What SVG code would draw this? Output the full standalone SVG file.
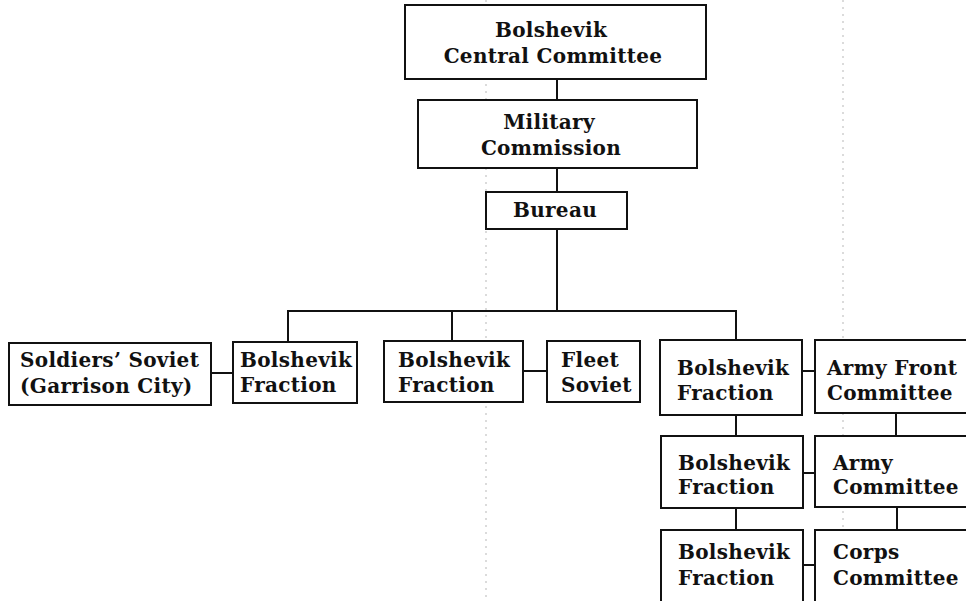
<svg xmlns="http://www.w3.org/2000/svg" width="966" height="601" viewBox="0 0 966 601">
<style>
.box{fill:#fff;stroke:#111;stroke-width:2}
.t{font-family:"DejaVu Serif","Liberation Serif",serif;font-weight:bold;font-size:20px;letter-spacing:0.3px;fill:#111}
.c{text-anchor:middle}
.ln{stroke:#111;stroke-width:2;fill:none}
.fold{stroke:#999;stroke-width:0.7;stroke-dasharray:2 5;fill:none}
</style>
<rect width="966" height="601" fill="#fff"/>
<g id="folds">
<line class="fold" x1="486" y1="0" x2="486" y2="601"/>
<line class="fold" x1="843" y1="0" x2="843" y2="601"/>
</g>
<g id="connectors">
<line class="ln" x1="557" y1="79" x2="557" y2="100"/>
<line class="ln" x1="557" y1="168" x2="557" y2="192"/>
<line class="ln" x1="557" y1="229" x2="557" y2="311"/>
<polyline class="ln" points="288,342 288,311 736,311 736,340"/>
<line class="ln" x1="452" y1="311" x2="452" y2="341"/>
<line class="ln" x1="211" y1="373" x2="233" y2="373"/>
<line class="ln" x1="523" y1="371" x2="547" y2="371"/>
<line class="ln" x1="802" y1="371" x2="815" y2="371"/>
<line class="ln" x1="736" y1="415" x2="736" y2="436"/>
<line class="ln" x1="896" y1="413" x2="896" y2="436"/>
<line class="ln" x1="803" y1="473" x2="815" y2="473"/>
<line class="ln" x1="736" y1="508" x2="736" y2="530"/>
<line class="ln" x1="897" y1="507" x2="897" y2="530"/>
<line class="ln" x1="803" y1="565" x2="815" y2="565"/>
</g>
<g id="central">
<rect class="box" x="405" y="5" width="301" height="74"/>
<text class="t c" x="551" y="37">Bolshevik</text>
<text class="t c" x="553" y="63">Central Committee</text>
</g>
<g id="military">
<rect class="box" x="418" y="100" width="279" height="68"/>
<text class="t c" x="549" y="129">Military</text>
<text class="t c" x="551" y="155">Commission</text>
</g>
<g id="bureau">
<rect class="box" x="486" y="192" width="141" height="37"/>
<text class="t c" x="555" y="217">Bureau</text>
</g>
<g id="soldiers">
<rect class="box" x="9" y="343" width="202" height="62"/>
<text class="t" x="20" y="367">Soldiers’ Soviet</text>
<text class="t" x="20" y="393">(Garrison City)</text>
</g>
<g id="fraction1">
<rect class="box" x="233" y="342" width="124" height="61"/>
<text class="t" x="240" y="367">Bolshevik</text>
<text class="t" x="240" y="392">Fraction</text>
</g>
<g id="fraction2">
<rect class="box" x="384" y="341" width="139" height="61"/>
<text class="t" x="398" y="367">Bolshevik</text>
<text class="t" x="398" y="392">Fraction</text>
</g>
<g id="fleet">
<rect class="box" x="547" y="341" width="93" height="61"/>
<text class="t" x="561" y="367">Fleet</text>
<text class="t" x="561" y="392">Soviet</text>
</g>
<g id="fraction3">
<rect class="box" x="660" y="340" width="142" height="75"/>
<text class="t" x="677" y="375">Bolshevik</text>
<text class="t" x="677" y="400">Fraction</text>
</g>
<g id="armyfront">
<rect class="box" x="815" y="340" width="170" height="73"/>
<text class="t" x="827" y="375">Army Front</text>
<text class="t" x="827" y="400">Committee</text>
</g>
<g id="fraction4">
<rect class="box" x="661" y="436" width="142" height="72"/>
<text class="t" x="678" y="470">Bolshevik</text>
<text class="t" x="678" y="494">Fraction</text>
</g>
<g id="army">
<rect class="box" x="815" y="436" width="170" height="71"/>
<text class="t" x="833" y="470">Army</text>
<text class="t" x="833" y="494">Committee</text>
</g>
<g id="fraction5">
<rect class="box" x="661" y="530" width="142" height="80"/>
<text class="t" x="678" y="559">Bolshevik</text>
<text class="t" x="678" y="585">Fraction</text>
</g>
<g id="corps">
<rect class="box" x="815" y="530" width="170" height="80"/>
<text class="t" x="833" y="559">Corps</text>
<text class="t" x="833" y="585">Committee</text>
</g>
</svg>
